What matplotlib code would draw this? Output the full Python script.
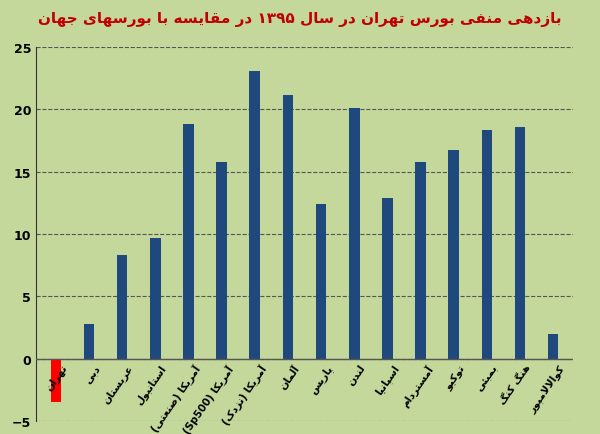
import re
import numpy as np
import matplotlib.pyplot as plt

categories = ["تهران", "دبی", "عربستان", "استانبول", "آمریکا (صنعتی)", "آمریکا (Sp500)",
              "آمریکا (نزدک)", "آلمان", "پاریس", "لندن", "اسپانیا", "آمستردام",
              "توکیو", "بمبئی", "هنگ کنگ", "کوالالامپور"]
values = [-3.5, 2.8, 8.3, 9.7, 18.8, 15.8, 23.1, 21.1, 12.4, 20.1, 12.9, 15.8,
          16.7, 18.3, 18.6, 2.0]
title = "بازدهی منفی بورس تهران در سال ۱۳۹۵ در مقایسه با بورسهای جهان"

# minimal Persian shaping: (isolated, final, initial, medial)
FORMS = {
    "ا": (0xFE8D, 0xFE8E), "آ": (0xFE81, 0xFE82), "د": (0xFEA9, 0xFEAA),
    "ذ": (0xFEAB, 0xFEAC), "ر": (0xFEAD, 0xFEAE), "ز": (0xFEAF, 0xFEB0),
    "و": (0xFEED, 0xFEEE),
    "ب": (0xFE8F, 0xFE90, 0xFE91, 0xFE92), "ت": (0xFE95, 0xFE96, 0xFE97, 0xFE98),
    "ج": (0xFE9D, 0xFE9E, 0xFE9F, 0xFEA0), "س": (0xFEB1, 0xFEB2, 0xFEB3, 0xFEB4),
    "ص": (0xFEB9, 0xFEBA, 0xFEBB, 0xFEBC), "ط": (0xFEC1, 0xFEC2, 0xFEC3, 0xFEC4),
    "ع": (0xFEC9, 0xFECA, 0xFECB, 0xFECC), "ف": (0xFED1, 0xFED2, 0xFED3, 0xFED4),
    "ق": (0xFED5, 0xFED6, 0xFED7, 0xFED8), "ل": (0xFEDD, 0xFEDE, 0xFEDF, 0xFEE0),
    "م": (0xFEE1, 0xFEE2, 0xFEE3, 0xFEE4), "ن": (0xFEE5, 0xFEE6, 0xFEE7, 0xFEE8),
    "ه": (0xFEE9, 0xFEEA, 0xFEEB, 0xFEEC), "ی": (0xFBFC, 0xFBFD, 0xFBFE, 0xFBFF),
    "پ": (0xFB56, 0xFB57, 0xFB58, 0xFB59), "ک": (0xFB8E, 0xFB8F, 0xFB90, 0xFB91),
    "گ": (0xFB92, 0xFB93, 0xFB94, 0xFB95), "ئ": (0xFE89, 0xFE8A, 0xFE8B, 0xFE8C),
}


def shape(s):
    s = s.replace("لا", "\uFEFB")
    out = []
    for i, c in enumerate(s):
        if c == "\uFEFB":
            prev = s[i - 1] if i > 0 else ""
            out.append("\uFEFC" if prev in FORMS and len(FORMS[prev]) == 4 else c)
            continue
        if c not in FORMS:
            out.append(c)
            continue
        f = FORMS[c]
        prev = s[i - 1] if i > 0 else ""
        nxt = s[i + 1] if i + 1 < len(s) else ""
        jp = prev in FORMS and len(FORMS[prev]) == 4
        jn = len(f) == 4 and (nxt in FORMS or nxt == "\uFEFB")
        if jp and jn:
            out.append(chr(f[3]))
        elif jp:
            out.append(chr(f[1]))
        elif jn:
            out.append(chr(f[2]))
        else:
            out.append(chr(f[0]))
    vis = "".join(out)[::-1]
    vis = vis.translate(str.maketrans("()", ")("))
    # keep digit / latin runs left-to-right
    return re.sub(r"[0-9A-Za-z۰-۹]+", lambda m: m.group(0)[::-1], vis)


fig, ax = plt.subplots(figsize=(6, 4.35), dpi=100)
bg = "#c4d89c"
fig.patch.set_facecolor(bg)
ax.set_facecolor(bg)
fig.subplots_adjust(left=0.06, right=0.955, top=0.89, bottom=0.03)

x = np.arange(len(categories))
colors = ["#ff0000"] + ["#1f497d"] * (len(categories) - 1)
ax.bar(x, values, width=0.32, color=colors, zorder=3)

ax.set_ylim(-5, 25)
ax.set_xlim(-0.6, len(categories) - 0.4)
ax.set_yticks(np.arange(-5, 26, 5))
ax.tick_params(axis="y", length=0, labelsize=9)
for t in ax.get_yticklabels():
    t.set_fontweight("bold")
ax.set_xticks([])
ax.yaxis.grid(True, linestyle="--", color="#555555", linewidth=0.8)
ax.axhline(0, color="#555555", linewidth=1, zorder=4)
for side in ["top", "right", "bottom"]:
    ax.spines[side].set_visible(False)
ax.spines["left"].set_color("#333333")

for xi, name in zip(x, categories):
    ax.text(xi + 0.15, -0.3, shape(name), rotation=55, rotation_mode="anchor",
            ha="right", va="top", fontsize=7.5, fontweight="bold",
            fontfamily="DejaVu Sans", zorder=5)

fig.text(0.5, 0.955, shape(title), ha="center", va="center", color="#c00000",
         fontsize=11, fontweight="bold", fontfamily="DejaVu Sans")

fig.savefig("out.png", dpi=100, facecolor=bg)
